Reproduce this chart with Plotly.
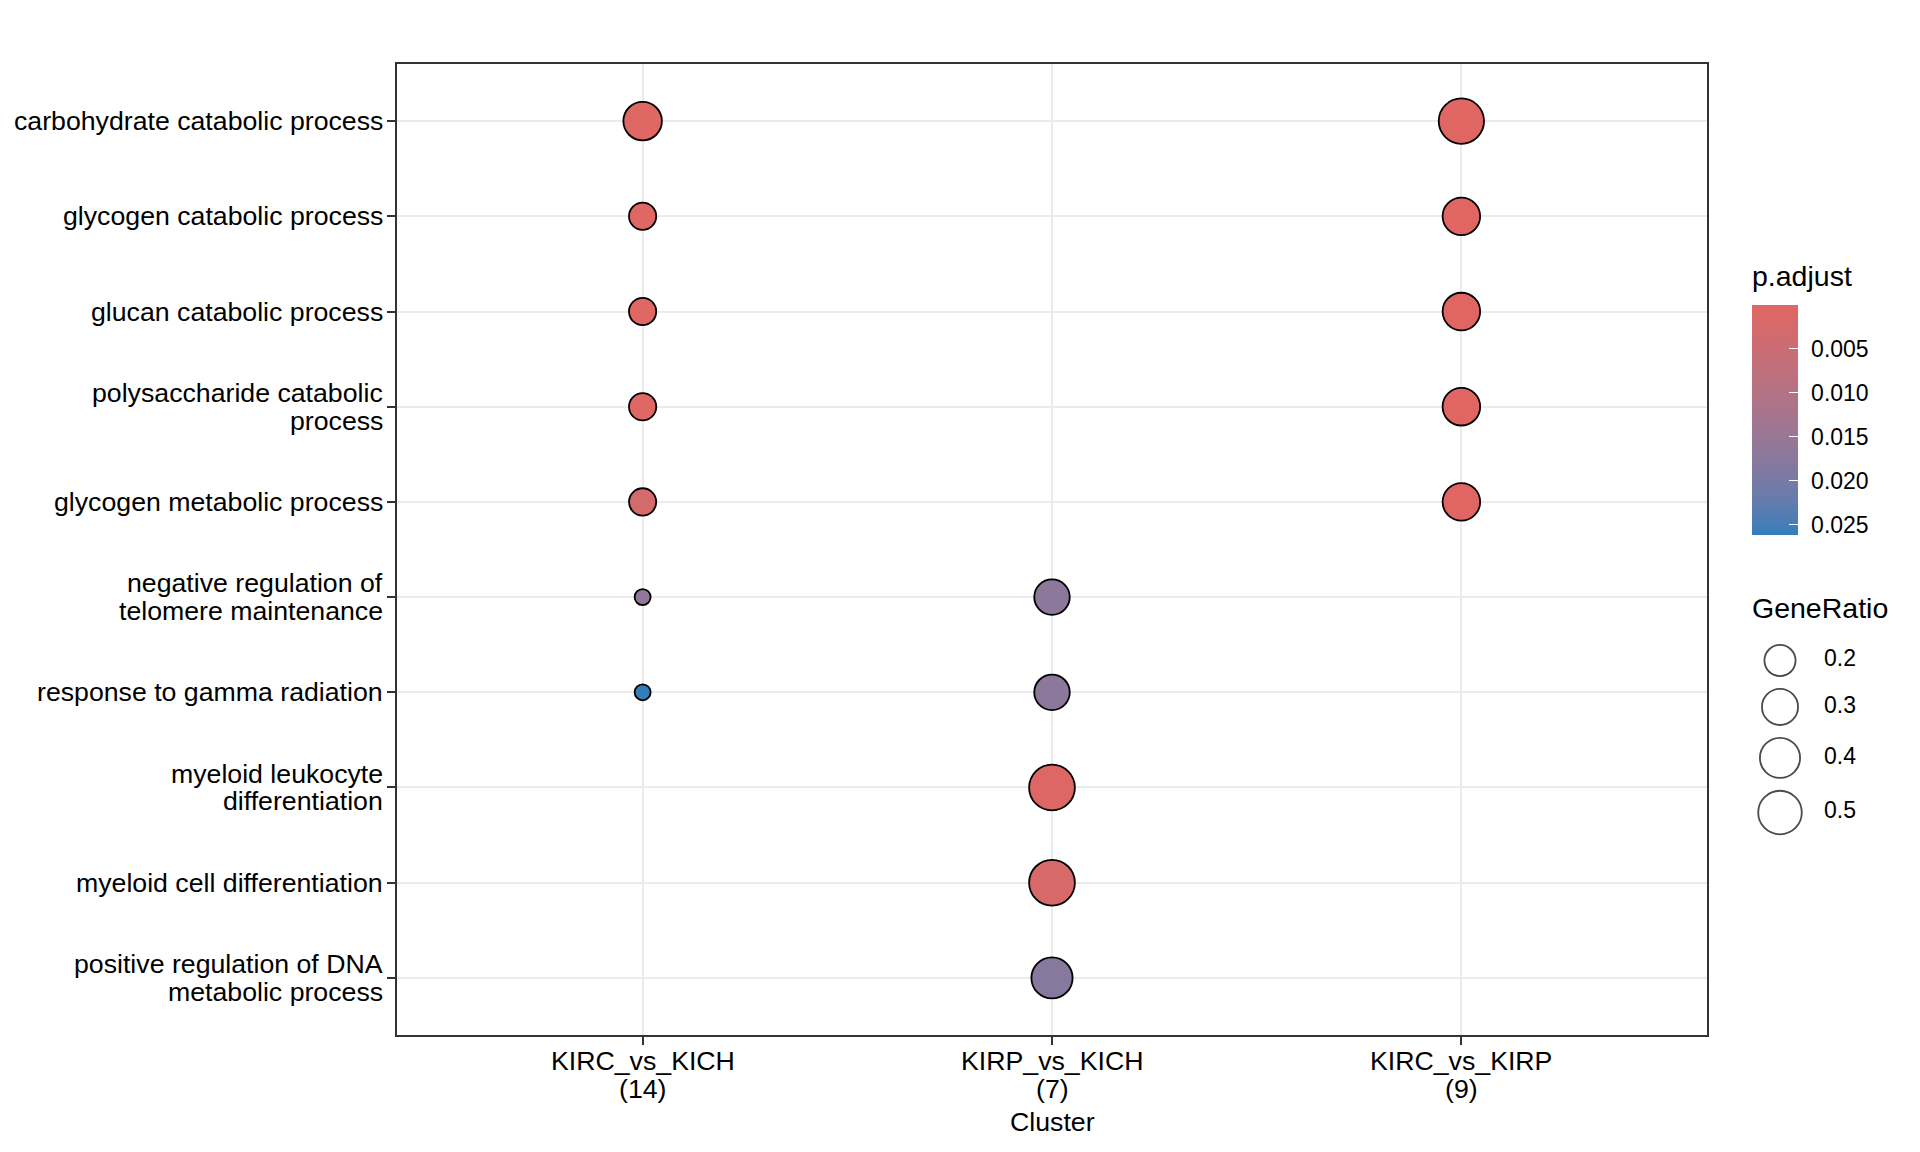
import plotly.graph_objects as go
import numpy as np

# ---------------- data ----------------
clusters = ["KIRC_vs_KICH", "KIRP_vs_KICH", "KIRC_vs_KIRP"]
cluster_counts = [14, 7, 9]
descriptions = [
    "carbohydrate catabolic process",
    "glycogen catabolic process",
    "glucan catabolic process",
    "polysaccharide catabolic<br>process",
    "glycogen metabolic process",
    "negative regulation of<br>telomere maintenance",
    "response to gamma radiation",
    "myeloid leukocyte<br>differentiation",
    "myeloid cell differentiation",
    "positive regulation of DNA<br>metabolic process",
]

point_cluster = (["KIRC_vs_KICH"] * 7 + ["KIRP_vs_KICH"] * 5 + ["KIRC_vs_KIRP"] * 5)
point_desc = [
    descriptions[0], descriptions[1], descriptions[2], descriptions[3],
    descriptions[4], descriptions[5], descriptions[6],
    descriptions[5], descriptions[6], descriptions[7], descriptions[8], descriptions[9],
    descriptions[0], descriptions[1], descriptions[2], descriptions[3], descriptions[4],
]
gene_ratio = [
    5/14, 2/14, 2/14, 2/14, 2/14, 1/14, 1/14,
    2/7, 2/7, 4/7, 4/7, 3/7,
    5/9, 3/9, 3/9, 3/9, 3/9,
]
p_adjust = [
    0.00035, 0.00035, 0.00035, 0.00035, 0.0028, 0.0163, 0.0262,
    0.0170, 0.0170, 0.0007, 0.0021, 0.0178,
    0.00002, 0.00004, 0.00004, 0.00004, 0.00004,
]
size_breaks = [0.2, 0.3, 0.4, 0.5]
color_breaks = [0.005, 0.010, 0.015, 0.020, 0.025]

# ---------------- styling helpers ----------------
LOW_COL = "#e06663"
HIGH_COL = "#327eba"


def hex_to_rgb(h):
    h = h.lstrip("#")
    return [int(h[i:i + 2], 16) / 255 for i in (0, 2, 4)]


def rgb_to_lab(rgb):
    lin = [c / 12.92 if c <= 0.04045 else ((c + 0.055) / 1.055) ** 2.4 for c in rgb]
    M = np.array([[0.4124564, 0.3575761, 0.1804375],
                  [0.2126729, 0.7151522, 0.0721750],
                  [0.0193339, 0.1191920, 0.9503041]])
    X, Y, Z = M @ np.array(lin)
    wx, wy, wz = 0.95047, 1.0, 1.08883

    def f(t):
        return t ** (1 / 3) if t > 0.008856 else 7.787 * t + 16 / 116
    fx, fy, fz = f(X / wx), f(Y / wy), f(Z / wz)
    return [116 * fy - 16, 500 * (fx - fy), 200 * (fy - fz)]


def lab_to_hex(lab):
    L, a, b = lab
    fy = (L + 16) / 116
    fx = fy + a / 500
    fz = fy - b / 200

    def finv(t):
        return t ** 3 if t ** 3 > 0.008856 else (t - 16 / 116) / 7.787
    X, Y, Z = finv(fx) * 0.95047, finv(fy), finv(fz) * 1.08883
    Minv = np.array([[3.2404542, -1.5371385, -0.4985314],
                     [-0.9692660, 1.8760108, 0.0415560],
                     [0.0556434, -0.2040259, 1.0572252]])
    lin = Minv @ np.array([X, Y, Z])
    out = []
    for c in lin:
        c = max(0.0, min(1.0, c))
        c = 12.92 * c if c <= 0.0031308 else 1.055 * c ** (1 / 2.4) - 0.055
        out.append(int(round(max(0, min(1, c)) * 255)))
    return "#%02x%02x%02x" % tuple(out)


lab_lo = np.array(rgb_to_lab(hex_to_rgb(LOW_COL)))
lab_hi = np.array(rgb_to_lab(hex_to_rgb(HIGH_COL)))
# colorscale on negated p (small p on top of the bar): 0 -> high p (blue), 1 -> low p (red)
colorscale = []
for t in np.linspace(0, 1, 21):
    colorscale.append([float(t), lab_to_hex(lab_hi + (lab_lo - lab_hi) * t)])

# size mapping (ggplot area palette: diameter ~ sqrt of rescaled value)
VMIN, VMAX = min(gene_ratio), max(gene_ratio)
D_MIN, D_MAX = 16.0, 45.8
LINE_W = 1.8


def diam(v):
    t = (v - VMIN) / (VMAX - VMIN)
    return D_MIN + (D_MAX - D_MIN) * np.sqrt(max(t, 0))


FONT = "Liberation Sans, Arial, Helvetica, sans-serif"
AX_FONT = 26.7
LINE_H = 27.8
OFF = 8                      # page body margin of the html document
W, H = 1920 - 2 * OFF, 1152 - 2 * OFF
PLOT_L, PLOT_R, PLOT_T, PLOT_B = 397, 1707, 64, 1035     # in screen pixels
ML = PLOT_L - OFF
MT = PLOT_T - OFF
MB = H - (PLOT_B - OFF)
MR = 9
PW = W - ML - MR
PH = H - MT - MB


def px_x(x):
    return (x - OFF - ML) / PW


def px_y(y):
    return (H - MB - (y - OFF)) / PH


cbar_common = dict(
    x=px_x(1752), xanchor="left", xpad=0,
    y=px_y(305), yanchor="top", ypad=0,
    len=230, lenmode="pixels",
    thickness=46, thicknessmode="pixels",
    outlinewidth=0,
    tickvals=[-v for v in color_breaks],
    ticktext=["%.3f" % v for v in color_breaks],
    tickfont=dict(family=FONT, size=23, color="black"),
)

fig = go.Figure()

fig.add_trace(go.Scatter(
    x=point_cluster,
    y=point_desc,
    mode="markers",
    marker=dict(
        size=[diam(v) for v in gene_ratio],
        sizemode="diameter",
        color=[-p for p in p_adjust],
        colorscale=colorscale,
        cmin=-max(p_adjust),
        cmax=-min(p_adjust),
        line=dict(color="black", width=LINE_W),
        opacity=1,
        colorbar=dict(ticks="outside", ticklen=9, tickcolor="rgba(0,0,0,0)",
                      tickwidth=1, **cbar_common),
    ),
    showlegend=False,
    hoverinfo="skip",
))

# overlay colorbar carrying the white inside tick marks (no labels)
fig.add_trace(go.Scatter(
    x=[None], y=[None], mode="markers",
    marker=dict(
        color=[-max(p_adjust)], colorscale=colorscale,
        cmin=-max(p_adjust), cmax=-min(p_adjust), showscale=True,
        colorbar=dict(ticks="inside", ticklen=9, tickcolor="white", tickwidth=1.2,
                      showticklabels=False, **cbar_common),
    ),
    showlegend=False, hoverinfo="skip",
))

# size legend (own axes)
LEG_X0, LEG_X1 = 1740, 1900
LEG_Y0, LEG_Y1 = 630, 840
key_d = [diam(v) + LINE_W for v in size_breaks]
key_y = [660.5]
for i in range(1, len(size_breaks)):
    key_y.append(key_y[-1] + (key_d[i - 1] + key_d[i]) / 2 + 11.0)

fig.add_trace(go.Scatter(
    x=[1780] * len(size_breaks), y=key_y,
    xaxis="x2", yaxis="y2", mode="markers",
    marker=dict(size=[diam(v) for v in size_breaks], sizemode="diameter",
                color="white", line=dict(color="black", width=LINE_W)),
    showlegend=False, hoverinfo="skip",
))
fig.add_trace(go.Scatter(
    x=[1824] * len(size_breaks), y=key_y,
    xaxis="x2", yaxis="y2", mode="text",
    text=["%.1f" % v for v in size_breaks], textposition="middle right",
    textfont=dict(family=FONT, size=23, color="black"),
    showlegend=False, hoverinfo="skip",
))

annotations = [
    dict(text="p.adjust", x=px_x(1750), y=px_y(276), xref="paper", yref="paper",
         xanchor="left", yanchor="middle", showarrow=False,
         font=dict(family=FONT, size=28.5, color="black")),
    dict(text="GeneRatio", x=px_x(1750), y=px_y(608), xref="paper", yref="paper",
         xanchor="left", yanchor="middle", showarrow=False,
         font=dict(family=FONT, size=28.5, color="black")),
    dict(text="Cluster", x=0.5 * px_x(PLOT_R), y=0, xref="paper", yref="paper",
         xanchor="center", yanchor="middle", yshift=-(1122 - PLOT_B), showarrow=False,
         font=dict(family=FONT, size=AX_FONT, color="black")),
]

# y-axis category labels (one annotation per text line, tight line spacing like ggplot)
for d in descriptions:
    lines = d.split("<br>")
    n = len(lines)
    for i, ln in enumerate(lines):
        annotations.append(dict(
            text=ln, x=0, y=d, xref="paper", yref="y",
            xanchor="right", yanchor="middle", xshift=-12,
            yshift=-(i - (n - 1) / 2) * LINE_H, showarrow=False,
            font=dict(family=FONT, size=AX_FONT, color="black")))

# x-axis category labels
for c, n_genes in zip(clusters, cluster_counts):
    for i, ln in enumerate([c, "(%d)" % n_genes]):
        annotations.append(dict(
            text=ln, x=c, y=0, xref="x", yref="paper",
            xanchor="center", yanchor="middle",
            yshift=-(1061 - PLOT_B) - i * LINE_H, showarrow=False,
            font=dict(family=FONT, size=AX_FONT, color="black")))

fig.update_layout(
    width=W, height=H,
    margin=dict(l=ML, r=MR, t=MT, b=MB, pad=0),
    paper_bgcolor="white", plot_bgcolor="white",
    font=dict(family=FONT, color="black"),
    xaxis=dict(
        domain=[0, px_x(PLOT_R)],
        type="category",
        categoryorder="array", categoryarray=clusters,
        range=[-0.6, len(clusters) - 0.4],
        showgrid=True, gridcolor="#EBEBEB", gridwidth=1.8,
        showline=True, linecolor="#333333", linewidth=1.8, mirror=True,
        ticks="outside", ticklen=8, tickwidth=1.8, tickcolor="#333333",
        showticklabels=False,
        zeroline=False,
    ),
    yaxis=dict(
        type="category",
        categoryorder="array", categoryarray=descriptions,
        range=[len(descriptions) - 0.4, -0.6],
        showgrid=True, gridcolor="#EBEBEB", gridwidth=1.8,
        showline=True, linecolor="#333333", linewidth=1.8, mirror=True,
        ticks="outside", ticklen=8, tickwidth=1.8, tickcolor="#333333",
        showticklabels=False,
        zeroline=False,
    ),
    xaxis2=dict(domain=[px_x(LEG_X0), px_x(LEG_X1)], range=[LEG_X0, LEG_X1],
                anchor="y2", visible=False, fixedrange=True),
    yaxis2=dict(domain=[px_y(LEG_Y1), px_y(LEG_Y0)], range=[LEG_Y1, LEG_Y0],
                anchor="x2", visible=False, fixedrange=True),
    annotations=annotations,
)

fig.write_html("out.html")
